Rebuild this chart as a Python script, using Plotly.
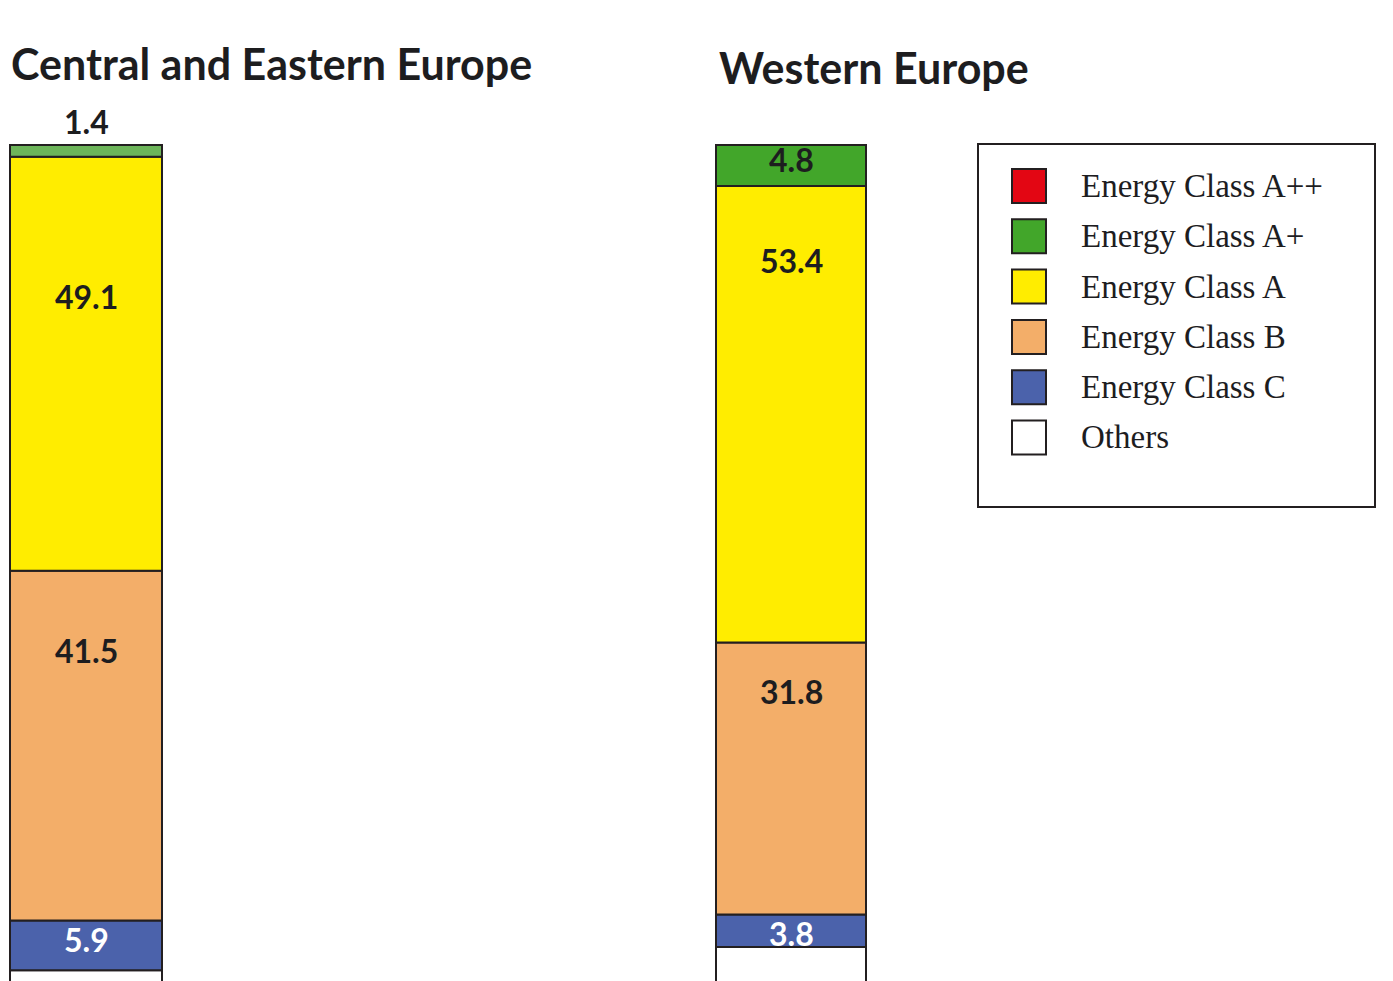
import plotly.graph_objects as go

# ---------------- data ----------------
regions = ["Central and Eastern Europe", "Western Europe"]
# stacking order, bottom to top
classes = ["Others", "Energy Class C", "Energy Class B", "Energy Class A",
           "Energy Class A+", "Energy Class A++"]
cee_values = [2.1, 5.9, 41.5, 49.1, 1.4, 0.0]
west_values = [6.2, 3.8, 31.8, 53.4, 4.8, 0.0]
cee_labels = ["", "5.9", "41.5", "49.1", "1.4", ""]
west_labels = ["", "3.8", "31.8", "53.4", "4.8", ""]

# legend order (top to bottom)
legend_names = ["Energy Class A++", "Energy Class A+", "Energy Class A",
                "Energy Class B", "Energy Class C", "Others"]

# ---------------- style ----------------
W, H = 1393, 981
INK = "#1d1d1f"
EDGE = "#231f20"
cee_colors = ["#ffffff", "#4b62ab", "#f3ae69", "#ffed00", "#6db55a", "#e30613"]
west_colors = ["#ffffff", "#4b62ab", "#f3ae69", "#ffed00", "#42a62a", "#e30613"]
legend_colors = ["#e30613", "#42a62a", "#ffed00", "#f3ae69", "#4b62ab", "#ffffff"]
label_colors = ["#1d1d1f", "#ffffff", "#1d1d1f", "#1d1d1f", "#1d1d1f", "#1d1d1f"]
# label offsets below the segment top in pixels ("above" -> above the bar)
cee_label_offset = [None, 19, 80, 140, "above", None]
west_label_offset = [None, 19, 49, 74, 14, None]

bar_px = [(10, 162), (716, 866)]
bar_top_px = 145
px_per_unit = [8.43, 8.55]
pad = 6

LABEL_FONT = dict(family="Lato", size=32, color=INK)
TITLE_FONT = dict(family="Lato", size=43, color=INK)
LEG_FONT = dict(family="Liberation Serif", size=33, color=INK)

fig = go.Figure()
annotations = []
shapes = []

series = [(cee_values, cee_labels, cee_colors, cee_label_offset),
          (west_values, west_labels, west_colors, west_label_offset)]

layout_axes = {}
for i, (region, (vals, labs, cols, offs)) in enumerate(zip(regions, series)):
    xa = "x" if i == 0 else "x2"
    ya = "y" if i == 0 else "y2"
    x0, x1 = bar_px[i]
    dom = [(x0 - pad) / W, (x1 + pad) / W]
    width = (x1 - x0) / (x1 - x0 + 2 * pad)
    total = sum(vals)
    ppu = px_per_unit[i]
    # the top of the stack sits at bar_top_px
    y_hi = total + bar_top_px / ppu
    y_lo = total - (H - bar_top_px) / ppu
    layout_axes["xaxis" + ("" if i == 0 else "2")] = dict(
        domain=dom, range=[-0.5, 0.5], visible=False, anchor=ya, fixedrange=True)
    layout_axes["yaxis" + ("" if i == 0 else "2")] = dict(
        domain=[0, 1], range=[y_lo, y_hi], visible=False, anchor=xa, fixedrange=True)

    cum = 0.0
    for j, (cls, v, c, lab, off) in enumerate(zip(classes, vals, cols, labs, offs)):
        if v <= 0:
            continue
        fig.add_trace(go.Bar(
            x=[0], y=[v], base=[cum], name=cls, width=width,
            marker=dict(color=c, line=dict(color=EDGE, width=2)),
            xaxis=xa, yaxis=ya, showlegend=False, hoverinfo="skip"))
        top = cum + v
        if lab:
            if off == "above":
                annotations.append(dict(
                    x=0, y=top, xref=xa, yref=ya, text=f"<b>{lab}</b>",
                    showarrow=False, font=LABEL_FONT, yanchor="middle",
                    yshift=24))
            else:
                annotations.append(dict(
                    x=0, y=top, xref=xa, yref=ya, text=f"<b>{lab}</b>",
                    showarrow=False, font=dict(LABEL_FONT, color=label_colors[j]),
                    yanchor="middle", yshift=-off))
        cum = top

# titles
title_pos = [(9, 63), (717, 67)]
for region, (tx, ty) in zip(regions, title_pos):
    annotations.append(dict(
        x=tx / W, y=1 - ty / H, xref="paper", yref="paper",
        text=f"<b>{region}</b>", showarrow=False, font=TITLE_FONT,
        xanchor="left", yanchor="middle"))

# custom legend
lb = (978, 144, 1375, 507)
shapes.append(dict(type="rect", xref="paper", yref="paper",
                   x0=lb[0] / W, x1=lb[2] / W, y0=1 - lb[3] / H, y1=1 - lb[1] / H,
                   line=dict(color=EDGE, width=2), fillcolor="rgba(0,0,0,0)"))
row0, row_step, sq = 186, 50.3, 34
for k, (nm, col) in enumerate(zip(legend_names, legend_colors)):
    cy = row0 + k * row_step
    shapes.append(dict(type="rect", xref="paper", yref="paper",
                       x0=1012 / W, x1=(1012 + sq) / W,
                       y0=1 - (cy + sq / 2) / H, y1=1 - (cy - sq / 2) / H,
                       line=dict(color=EDGE, width=2), fillcolor=col))
    annotations.append(dict(
        x=1079 / W, y=1 - cy / H, xref="paper", yref="paper", text=nm,
        showarrow=False, font=LEG_FONT, xanchor="left", yanchor="middle"))

fig.update_layout(
    width=W, height=H, barmode="overlay",
    margin=dict(l=0, r=0, t=0, b=0),
    paper_bgcolor="white", plot_bgcolor="white",
    annotations=annotations, shapes=shapes, showlegend=False,
    **layout_axes)

fig.write_html("out.html")
